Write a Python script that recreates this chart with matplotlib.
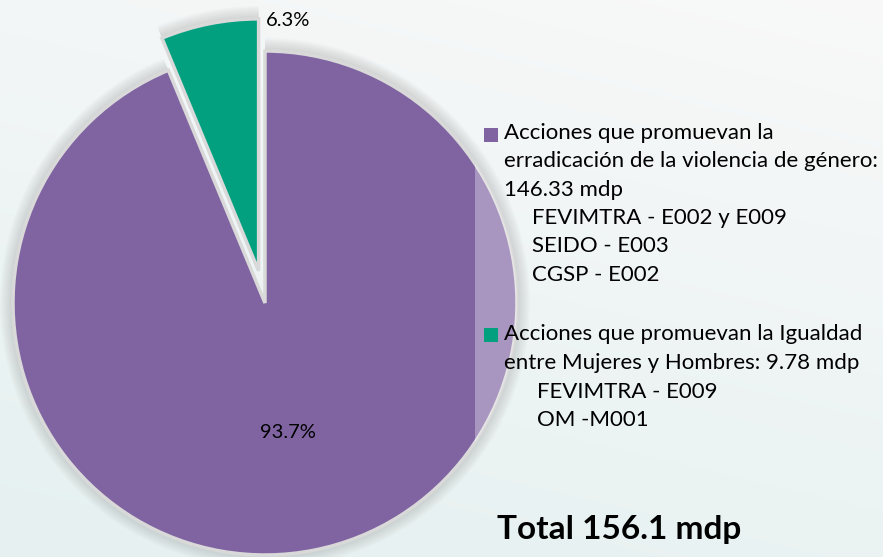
import numpy as np
import matplotlib
matplotlib.use("Agg")
import matplotlib.pyplot as plt
from matplotlib.patches import Rectangle

plt.rcParams['font.family'] = ['Lato', 'DejaVu Sans']

# data
names = ["Igualdad entre Mujeres y Hombres", "Erradicación de la violencia de género"]
values = [9.78, 146.33]
colors = ["#02A07F", "#8064A2"]
total = 156.1

legend_purple = ["Acciones que promuevan la",
                 "erradicación de la violencia de género:",
                 "146.33 mdp"]
sub_purple = ["FEVIMTRA - E002 y E009", "SEIDO - E003", "CGSP - E002"]
legend_green = ["Acciones que promuevan la Igualdad",
                "entre Mujeres y Hombres: 9.78 mdp"]
sub_green = ["FEVIMTRA - E009", "OM -M001"]

W, H = 883, 557
fig = plt.figure(figsize=(W / 100, H / 100), dpi=100)
ax = fig.add_axes([0, 0, 1, 1])
ax.set_xlim(0, W)
ax.set_ylim(0, H)
ax.set_aspect('equal')
ax.axis('off')

# background gradient: near white at top, faint cyan-gray at bottom left
gx = np.linspace(0, 1, 200)
gy = np.linspace(0, 1, 200)
GX, GY = np.meshgrid(gx, gy)  # GY=0 bottom
t = np.clip((1 - GY) * 0.8 + (1 - GX) * 0.3, 0, 1)
top = np.array([0.975, 0.975, 0.975])
bot = np.array([0.905, 0.945, 0.945])
bg = top[None, None, :] * (1 - t[..., None]) + bot[None, None, :] * t[..., None]
ax.imshow(bg, extent=[0, W, 0, H], origin='lower', zorder=0, aspect='auto')

R = 252
cx, cy = 265, H - 303
expl = [0.13 * R, 0]

# soft shadow
for k in range(8, 0, -1):
    sw, _ = ax.pie(values, colors=['#7a7a7a'] * 2, startangle=90, counterclock=True,
                   explode=expl, center=(cx, cy), radius=R + 1.6 * k,
                   wedgeprops=dict(edgecolor='none', alpha=0.035))
    for w in sw:
        w.set_zorder(1)

wedges, _ = ax.pie(values, colors=colors, startangle=90, counterclock=True,
                   explode=expl, center=(cx, cy), radius=R,
                   wedgeprops=dict(edgecolor='#d9d9d9', linewidth=2.5))
for w in wedges:
    w.set_zorder(2)
ax.set_xlim(0, W)
ax.set_ylim(0, H)

pcts = [v / sum(values) * 100 for v in values]
ax.text(288, H - 20, f"{pcts[0]:.1f}%", fontsize=14.5, ha='center', va='center', zorder=5)
ax.text(288, H - 432, f"{pcts[1]:.1f}%", fontsize=14.5, ha='center', va='center', zorder=5)

# legend panel overlay (only lightens the pie where it passes under the legend)
panel = Rectangle((475, 0), W - 475, H, facecolor='white', alpha=0.33,
                  edgecolor='none', zorder=3)
ax.add_patch(panel)
panel.set_clip_path(wedges[1])

fs = 16
ax.add_patch(Rectangle((484, H - 142), 14, 14, facecolor=colors[1], edgecolor='none', zorder=5))
for i, t in enumerate(legend_purple):
    ax.text(504, H - (133 + 28.4 * i), t, fontsize=fs, va='center', ha='left', zorder=5)
for i, t in enumerate(sub_purple):
    ax.text(532, H - (218 + 28.4 * i), t, fontsize=fs, va='center', ha='left', zorder=5)

ax.add_patch(Rectangle((484, H - 342), 14, 14, facecolor=colors[0], edgecolor='none', zorder=5))
for i, t in enumerate(legend_green):
    ax.text(504, H - (334 + 28.8 * i), t, fontsize=fs, va='center', ha='left', zorder=5)
for i, t in enumerate(sub_green):
    ax.text(537, H - (392 + 28.4 * i), t, fontsize=fs, va='center', ha='left', zorder=5)

ax.text(497, H - 530, f"Total {total} mdp", fontsize=24, fontweight='bold',
        va='center', ha='left', zorder=5)

fig.savefig("out.png", dpi=100)
